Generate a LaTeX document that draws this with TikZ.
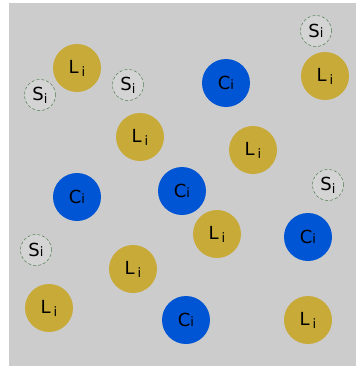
\documentclass[tikz,border=0pt]{standalone}
\usepackage{fontspec}
\setmainfont{DejaVu Sans}
\definecolor{bggray}{HTML}{CCCCCC}
\definecolor{ligold}{HTML}{C8AA38}
\definecolor{celblue}{HTML}{0055D4}
\definecolor{solgreen}{HTML}{4F7F4F}
\newcommand{\lowi}{\raisebox{-0.3ex}{\fontsize{13}{13}\selectfont i}}
\newcommand{\basei}{{\fontsize{13}{13}\selectfont i}}
\tikzset{
  lig/.style={circle, fill=ligold, minimum size=48pt, inner sep=0pt, font=\fontsize{18}{20}\selectfont},
  cel/.style={circle, fill=celblue, minimum size=48pt, inner sep=0pt, font=\fontsize{18}{20}\selectfont},
  sol/.style={circle, draw=solgreen, densely dashed, line width=0.5pt, fill=bggray!85!white, minimum size=31pt, inner sep=0pt, font=\fontsize{18}{20}\selectfont}
}
\begin{document}
\begin{tikzpicture}[x=1pt, y=-1pt]
\useasboundingbox (0,0) rectangle (361,370);
\fill[bggray] (9,3) rectangle (356,366);
% ligands
\node[lig] (l1) at (77,68) {L\,\lowi};
\node[lig] (l2) at (325,76) {L\,\lowi};
\node[lig] (l3) at (140,137) {L\,\lowi};
\node[lig] (l4) at (253,150) {L\,\lowi};
\node[lig] (l5) at (217,234) {L\,\lowi};
\node[lig] (l6) at (133,269) {L\,\lowi};
\node[lig] (l7) at (49,308) {L\,\lowi};
\node[lig] (l8) at (308,320) {L\,\lowi};
% cells
\node[cel] (c1) at (226,83) {C\basei};
\node[cel] (c2) at (77,197) {C\basei};
\node[cel] (c3) at (182,191) {C\basei};
\node[cel] (c4) at (308,237) {C\basei};
\node[cel] (c5) at (186,320) {C\basei};
% solvent
\node[sol] (s1) at (40,95) {S\lowi};
\node[sol] (s2) at (128,85) {S\lowi};
\node[sol] (s3) at (316,31) {S\basei};
\node[sol] (s4) at (328,185) {S\lowi};
\node[sol] (s5) at (36,250) {S\basei};
\end{tikzpicture}
\end{document}
